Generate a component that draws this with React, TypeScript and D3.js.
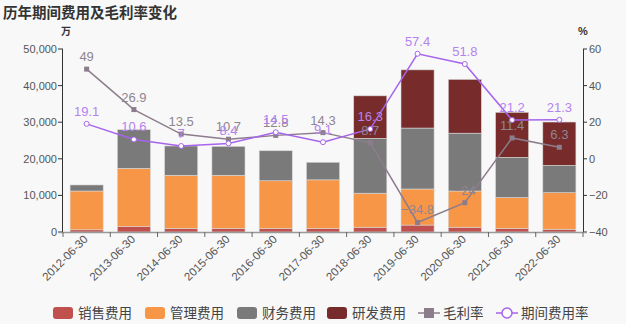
import React from "react";
import * as d3 from "d3";

const categories = ["2012-06-30","2013-06-30","2014-06-30","2015-06-30","2016-06-30","2017-06-30","2018-06-30","2019-06-30","2020-06-30","2021-06-30","2022-06-30"];
const sales = [600, 1450, 1000, 1000, 1000, 950, 1300, 1900, 1300, 1000, 750];
const mgmt = [10600, 15950, 14500, 14500, 13000, 13300, 9300, 9850, 9900, 8400, 10000];
const finance = [1650, 10550, 8000, 7900, 8200, 4800, 15000, 16650, 15800, 11000, 7450];
const rnd = [0, 0, 0, 0, 0, 0, 11600, 15900, 14700, 12300, 11850];
const grossMargin = [49, 26.9, 13.5, 10.7, 12.8, 14.3, 8.7, -34.8, -24, 11.4, 6.3];
const expenseRate = [19.1, 10.6, 7, 8.4, 14.5, 9.1, 16.3, 57.4, 51.8, 21.2, 21.3];
const leftTicks = [0, 10000, 20000, 30000, 40000, 50000];
const rightTicks = [-40, -20, 0, 20, 40, 60];

const seriesNames = ["销售费用", "管理费用", "财务费用", "研发费用"];
const seriesColors = ["#c0504d", "#f79646", "#7a7a7a", "#772b2a"];
const gmColor = "#8c7d8c";
const erColor = "#a665ec";
const erLabel = "#b583ef";
const gmLabel = "#8f8590";

export default function App() {
  const W = 626, H = 324;
  const left = 63, right = 583, top = 49, bottom = 232;
  const x = d3.scaleBand<string>().domain(categories).range([left, right]).paddingInner(0.3).paddingOuter(0.15);
  const xb = d3.scaleBand<string>().domain(categories).range([left, right]);
  const y = d3.scaleLinear().domain([0, 50000]).range([bottom, top]);
  const y2 = d3.scaleLinear().domain([-40, 60]).range([bottom, top]);
  const cx = (c: string) => (xb(c) as number) + xb.bandwidth() / 2;

  const table = categories.map((c, i) => ({ c, s0: sales[i], s1: mgmt[i], s2: finance[i], s3: rnd[i] }));
  const stack = d3.stack<any>().keys(["s0", "s1", "s2", "s3"])(table);

  const line = d3.line<number>().x((_, i) => cx(categories[i])).y((v) => y2(v));
  const fmt = d3.format(",");
  const lbl = (v: number) => (v < 0 ? "\u2212" + Math.abs(v) : String(v));

  const font = "'Liberation Sans', Arial, sans-serif";
  const legendItems = [
    { name: seriesNames[0], type: "rect", color: seriesColors[0], x: 53 },
    { name: seriesNames[1], type: "rect", color: seriesColors[1], x: 145 },
    { name: seriesNames[2], type: "rect", color: seriesColors[2], x: 237 },
    { name: seriesNames[3], type: "rect", color: seriesColors[3], x: 327 },
    { name: "毛利率", type: "gm", color: gmColor, x: 418 },
    { name: "期间费用率", type: "er", color: erColor, x: 496 },
  ];

  return (
    <svg width={W} height={H} style={{ position: "absolute", left: 0, top: 0, background: "#f8f8f8" }} fontFamily={font}>
      <rect x={0} y={0} width={W} height={H} fill="#f8f8f8" />
      <text x={3} y={18} fontSize={14.5} fontWeight="bold" fill="#333" fontFamily="'Noto Sans CJK SC', sans-serif">历年期间费用及毛利率变化</text>
      <text x={66} y={35} fontSize={10} fontWeight="bold" fill="#333" textAnchor="middle" fontFamily="'Noto Sans CJK SC', sans-serif">万</text>
      <text x={583} y={35} fontSize={11} fontWeight="bold" fill="#333" textAnchor="middle">%</text>

      {/* bars */}
      {stack.map((layer, li) => (
        <g key={li}>
          {layer.map((d, i) => (d[1] - d[0] > 0 ? (
            <rect key={i} x={x(categories[i])} width={x.bandwidth()} y={y(d[1])} height={y(d[0]) - y(d[1])}
              fill={seriesColors[li]} stroke="#d8d8d8" strokeWidth={0.6} />
          ) : null))}
        </g>
      ))}

      {/* left axis */}
      <line x1={left - 0.5} x2={left - 0.5} y1={top} y2={bottom} stroke="#333" />
      {leftTicks.map((t) => (
        <g key={t}>
          <line x1={left - 5} x2={left} y1={y(t)} y2={y(t)} stroke="#333" />
          <text x={left - 6} y={y(t) + 4} fontSize={11} fill="#555" textAnchor="end">{fmt(t)}</text>
        </g>
      ))}
      {/* right axis */}
      <line x1={right + 0.5} x2={right + 0.5} y1={top} y2={bottom} stroke="#333" />
      {rightTicks.map((t) => (
        <g key={t}>
          <line x1={right} x2={right + 4} y1={y2(t)} y2={y2(t)} stroke="#333" />
          <text x={right + 6} y={y2(t) + 4} fontSize={11} fill="#555">{lbl(t)}</text>
        </g>
      ))}
      {/* bottom axis */}
      <line x1={left - 4} x2={right + 4} y1={bottom + 0.5} y2={bottom + 0.5} stroke="#999" strokeWidth={1.5} />
      {categories.map((c, i) => (
        <line key={"t" + i} x1={xb(c)} x2={xb(c)} y1={bottom} y2={bottom + 5} stroke="#666" />
      ))}
      <line x1={right} x2={right} y1={bottom} y2={bottom + 5} stroke="#666" />
      {categories.map((c) => (
        <text key={c} transform={`translate(${cx(c) + 2},${bottom + 8}) rotate(-45)`} fontSize={11.5} fill="#555" textAnchor="end">{c}</text>
      ))}

      {/* gross margin line */}
      <path d={line(grossMargin) as string} fill="none" stroke={gmColor} strokeWidth={1.5} />
      {grossMargin.map((v, i) => (
        <rect key={i} x={cx(categories[i]) - 2.5} y={y2(v) - 2.5} width={5} height={5} fill={gmColor} />
      ))}
      {/* expense rate line */}
      <path d={line(expenseRate) as string} fill="none" stroke={erColor} strokeWidth={1.5} />
      {expenseRate.map((v, i) => (
        <circle key={i} cx={cx(categories[i])} cy={y2(v)} r={2.5} fill="#fff" stroke={erColor} strokeWidth={1} />
      ))}
      {grossMargin.map((v, i) => (
        <text key={"gl" + i} x={cx(categories[i])} y={y2(v) - 8} fontSize={13} fill={gmLabel} textAnchor="middle">{lbl(v)}</text>
      ))}
      {expenseRate.map((v, i) => (
        <text key={"el" + i} x={cx(categories[i])} y={y2(v) - 8} fontSize={13} fill={erLabel} textAnchor="middle">{lbl(v)}</text>
      ))}

      {/* legend */}
      {legendItems.map((it) => (
        <g key={it.name} fontFamily="'Noto Sans CJK SC', sans-serif">
          {it.type === "rect" && <rect x={it.x} y={307} width={20} height={12} rx={3} fill={it.color} />}
          {it.type === "gm" && (
            <g>
              <line x1={it.x} x2={it.x + 22} y1={313} y2={313} stroke={it.color} strokeWidth={1.5} />
              <rect x={it.x + 6} y={308} width={10} height={10} fill={it.color} />
            </g>
          )}
          {it.type === "er" && (
            <g>
              <line x1={it.x} x2={it.x + 22} y1={313} y2={313} stroke={it.color} strokeWidth={1.5} />
              <circle cx={it.x + 11} cy={313} r={5} fill="#fff" stroke={it.color} strokeWidth={1.5} />
            </g>
          )}
          <text x={it.x + 25} y={318} fontSize={13.5} fill="#444">{it.name}</text>
        </g>
      ))}
    </svg>
  );
}
